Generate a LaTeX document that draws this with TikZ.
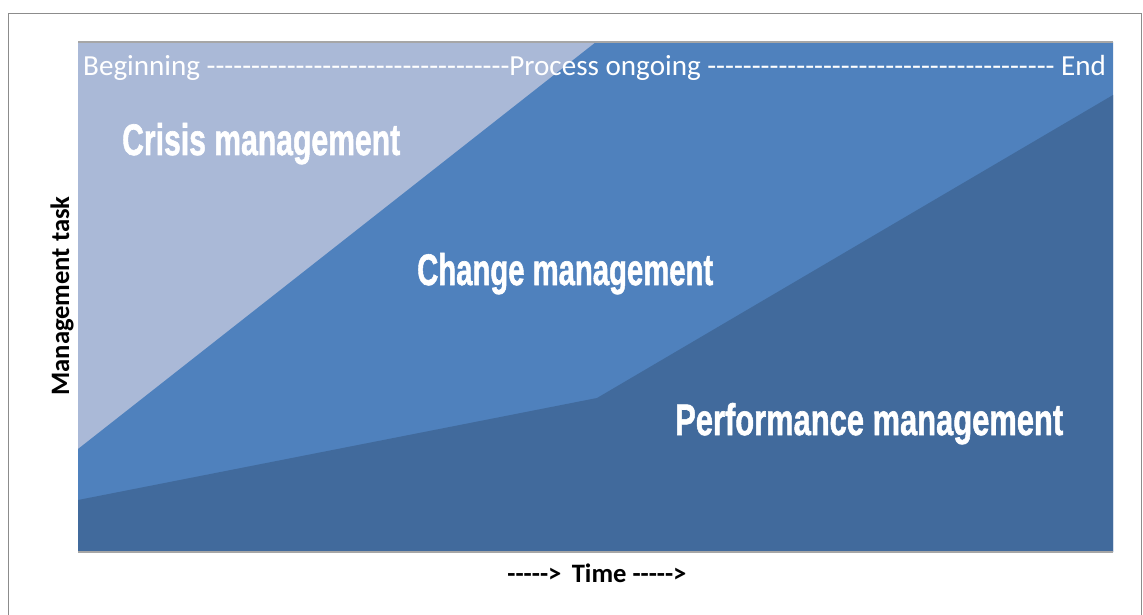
\documentclass[tikz,border=0pt]{standalone}
\usepackage{fontspec}
\setmainfont{Carlito}[Ligatures=TeXOff]
\newfontfamily\headfont{Liberation Sans}[BoldFont={* Bold},BoldFeatures={FakeBold=1.5}]
\usepackage{graphicx}
\definecolor{crisisfill}{HTML}{AAB9D7}
\definecolor{changefill}{HTML}{4F81BD}
\definecolor{perffill}{HTML}{416A9C}
\definecolor{framegray}{HTML}{8C8C8C}
\definecolor{plotline}{HTML}{A6A6A6}
\begin{document}
\begin{tikzpicture}[x=1pt,y=-1pt,
  areatitle/.style={text=white,inner sep=0pt,anchor=base west},
  axislabel/.style={text=black,inner sep=0pt,font=\fontsize{26.6}{30}\selectfont\bfseries},
  phaseline/.style={text=white,inner sep=0pt,anchor=base west,font=\fontsize{29.1}{34}\selectfont}]
\useasboundingbox (0,0) rectangle (1143,615);
% outer frame
\draw[framegray,line width=1.6pt] (8.5,615) -- (8.5,13.5) -- (1141.5,13.5) -- (1141.5,615);
% stacked areas
\fill[crisisfill] (78,42) rectangle (1113,552);
\fill[changefill] (78,449) -- (596,42) -- (1113,42) -- (1113,552) -- (78,552) -- cycle;
\fill[perffill] (78,500) -- (597,398) -- (1113,95) -- (1113,552) -- (78,552) -- cycle;
% plot border lines
\draw[plotline,line width=1.2pt] (78,42) -- (1113,42);
\draw[plotline,line width=1.2pt] (78,552) -- (1113,552);
% phase line along the top
\node[phaseline] (phases) at (83,76) {Beginning ----------------------------------Process ongoing --------------------------------------- End};
% area titles
\node[areatitle] (crisis) at (122,155) {\resizebox{278pt}{32pt}{\headfont\bfseries Crisis management}};
\node[areatitle] (change) at (417,285) {\resizebox{296pt}{32pt}{\headfont\bfseries Change management}};
\node[areatitle] (perf) at (675,435) {\resizebox{388pt}{32pt}{\headfont\bfseries Performance management}};
% axis labels
\node[axislabel,rotate=90,anchor=base] (ylab) at (69,296) {Management task};
\node[axislabel,anchor=base] (xlab) at (597,582) {-----> \,Time ----->};
\end{tikzpicture}
\end{document}
